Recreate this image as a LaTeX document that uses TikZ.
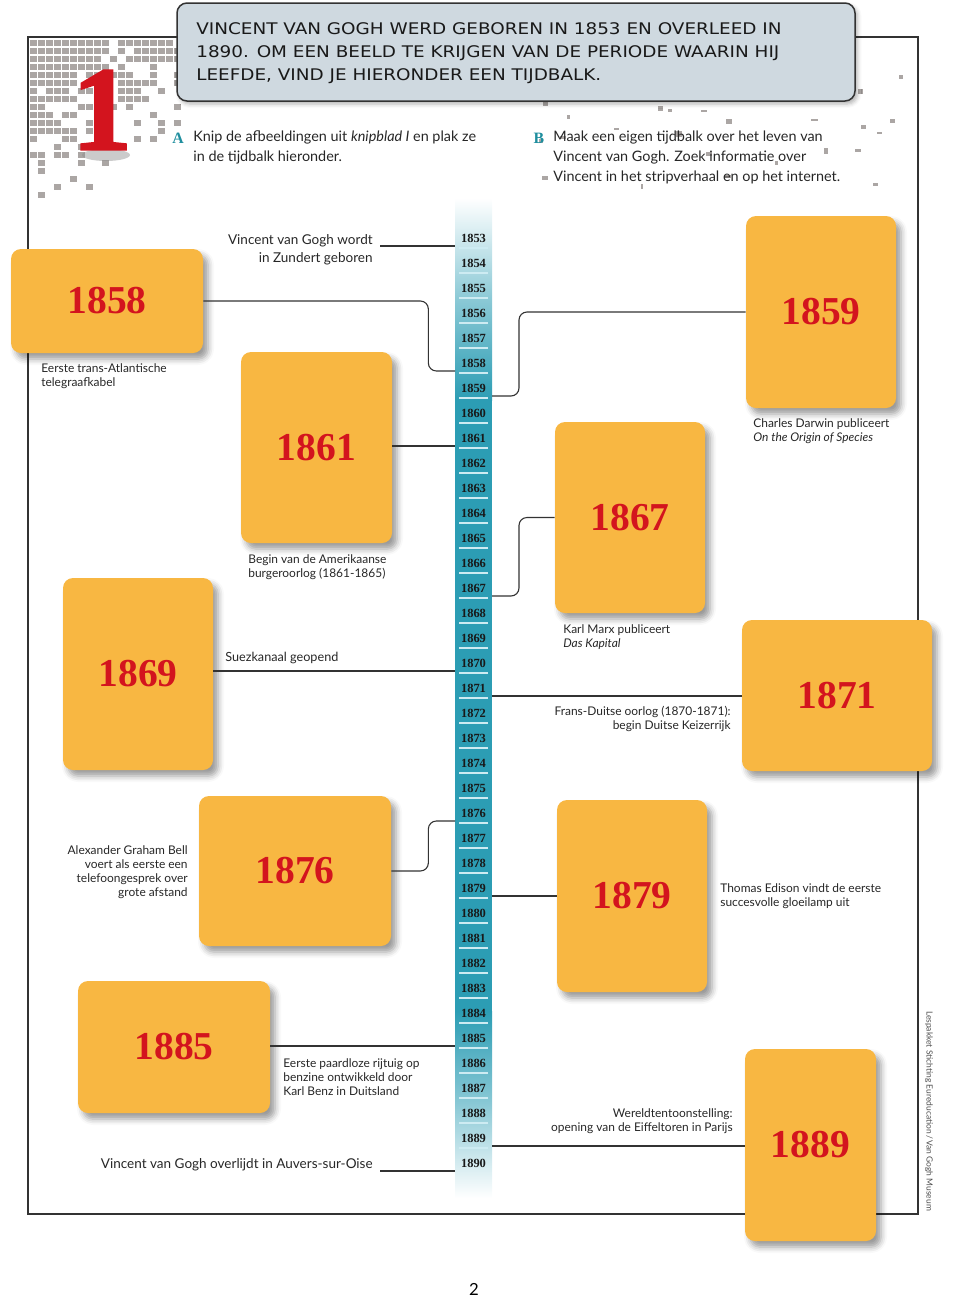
\documentclass[tikz,border=0pt]{standalone}
\usepackage{fontspec}
\setmainfont{Lato}
\newfontfamily\serifbold{Liberation Serif}
\newfontfamily\numfont{Liberation Serif}[FakeBold=2]
\newfontfamily\capsfont{DejaVu Sans}[FakeStretch=1.15]
\usetikzlibrary{calc,shadows.blur}

\definecolor{cardorange}{HTML}{F8B742}
\definecolor{yearred}{HTML}{D3141E}
\definecolor{barteal}{HTML}{2C9DB4}
\definecolor{tickblue}{HTML}{CDEBF2}
\definecolor{headblue}{HTML}{CFD9E0}
\definecolor{inkgray}{HTML}{333333}
\definecolor{letterteal}{HTML}{1F8E9E}
\definecolor{grunge}{HTML}{ABA6A4}

\begin{document}
\begin{tikzpicture}[x=0.2mm, y=-0.2mm,
card/.style 2 args={fill=cardorange, rounded corners=2mm, minimum width=#1*0.2mm, minimum height=#2*0.2mm, inner sep=0pt, text=yearred, font=\serifbold\bfseries\fontsize{22.5}{24}\selectfont, blur shadow={shadow xshift=1mm, shadow yshift=-1.2mm, shadow blur radius=1.2mm, shadow opacity=40}},
tick/.style={font=\serifbold\bfseries\fontsize{7.1}{8}\selectfont, text=black!90, inner sep=0pt},
tickline/.style={draw=tickblue, line width=0.3mm},
link/.style={draw=inkgray, line width=0.22mm, rounded corners=1.6mm},
note/.style={font=\fontsize{6.8}{8}\selectfont, inner sep=0pt, text=black!85},
bignote/.style={font=\fontsize{7.7}{10.2}\selectfont, inner sep=0pt, text=black!85},
intro/.style={font=\fontsize{8.2}{11.4}\selectfont, inner sep=0pt, align=left, anchor=west, text=black!85},
letter/.style={font=\serifbold\bfseries\fontsize{9}{10}\selectfont, text=letterteal, inner sep=0pt},
frame/.style={draw=inkgray, line width=0.3mm}
]

\useasboundingbox (0,0) rectangle (960,1296);

\pgfmathsetseed{11}
\foreach \gx in {30,38,...,178}
  \foreach \gy in {40,48,...,192} {
    \pgfmathsetmacro\pr{1.15-0.004*(\gx-30)-0.0062*(\gy-40)}
    \pgfmathtruncatemacro\hit{rnd<\pr ? 1 : 0}
    \ifnum\hit=1 \fill[grunge] (\gx,\gy) rectangle ++(7,6); \fi
  }
\foreach \k in {1,...,45} {
  \pgfmathsetmacro\sx{480+430*rnd}
  \pgfmathsetmacro\sy{40+145*rnd}
  \fill[grunge] (\sx,\sy) rectangle ++({2+5*rnd},{2+4*rnd});
}

\draw[frame] (28,37) rectangle (918,1214);

\node[draw=inkgray, line width=0.3mm, fill=headblue, rounded corners=2mm, minimum width=678*0.2mm, minimum height=98*0.2mm, blur shadow={shadow xshift=0.5mm, shadow yshift=-0.6mm, shadow blur radius=0.8mm, shadow opacity=30}] (head) at (516,52) {};
\node[anchor=west, align=left, inner sep=0pt, font=\capsfont\fontsize{9.1}{13.1}\selectfont, text=black!90] (headtxt) at (196,53) {VINCENT VAN GOGH WERD GEBOREN IN 1853 EN OVERLEED IN\\1890. OM EEN BEELD TE KRIJGEN VAN DE PERIODE WAARIN HIJ\\LEEFDE, VIND JE HIERONDER EEN TIJDBALK.};

\fill[black!45, opacity=0.45] (106,155) ellipse (24 and 6);
\node[font=\numfont\bfseries\fontsize{68}{70}\selectfont, text=yearred, inner sep=0pt] (num) at (102,110) {1};

\node[letter] (la) at (178,138) {A};
\node[intro] (introa) at (193,147) {Knip de afbeeldingen uit \textit{knipblad I} en plak ze\\in de tijdbalk hieronder.};
\node[letter] (lb) at (539,138) {B};
\node[intro] (introb) at (553,157) {Maak een eigen tijdbalk over het leven van\\Vincent van Gogh. Zoek informatie over\\Vincent in het stripverhaal en op het internet.};

\shade[top color=white, bottom color=barteal, middle color=barteal!55] (455,198) rectangle (492,400);
\fill[barteal] (455,399) rectangle (492,1012);
\shade[top color=barteal, bottom color=white, middle color=barteal!55] (455,1011) rectangle (492,1198);

\foreach \yr [count=\i from 0] in {1853,...,1890} {
  \pgfmathsetmacro\yy{238+25*\i}
  \node[tick] (y\yr) at (473.5,\yy) {\yr};
  \ifnum\yr<1890 \draw[tickline] (459,{\yy+10}) -- (488,{\yy+10}); \fi
  \coordinate (bl\yr) at (455,{\yy+8});
  \coordinate (br\yr) at (492,{\yy+8});
}

\node[card={192}{104}] (c1858) at (107,301) {1858};
\node[card={150}{192}] (c1859) at (821,312) {1859};
\node[card={151}{191}] (c1861) at (316.5,447.5) {1861};
\node[card={150}{191}] (c1867) at (630,517.5) {1867};
\node[card={150}{192}] (c1869) at (138,674) {1869};
\node[card={190}{151}] (c1871) at (837,695.5) {1871};
\node[card={192}{150}] (c1876) at (295,871) {1876};
\node[card={150}{192}] (c1879) at (632,896) {1879};
\node[card={192}{132}] (c1885) at (174,1047) {1885};
\node[card={131}{192}] (c1889) at (810.5,1145) {1889};

\node[bignote, anchor=east, align=right] (born) at (373,250) {Vincent van Gogh wordt\\in Zundert geboren};
\node[bignote, anchor=east] (died) at (373,1165) {Vincent van Gogh overlijdt in Auvers-sur-Oise};
\node[note, anchor=west, align=left] (cable) at (41,376) {Eerste trans-Atlantische\\telegraafkabel};
\node[note, anchor=west, align=left] (darwin) at (753,431) {Charles Darwin publiceert\\\textit{On the Origin of Species}};
\node[note, anchor=west, align=left] (civilwar) at (248,567) {Begin van de Amerikaanse\\burgeroorlog (1861-1865)};
\node[note, anchor=west, align=left] (marx) at (563,637) {Karl Marx publiceert\\\textit{Das Kapital}};
\node[note, anchor=west, font=\fontsize{7.2}{8}\selectfont] (suez) at (225,658) {Suezkanaal geopend};
\node[note, anchor=east, align=right] (fransduits) at (731,719) {Frans-Duitse oorlog (1870-1871):\\begin Duitse Keizerrijk};
\node[note, anchor=east, align=right] (bell) at (188,872.5) {Alexander Graham Bell\\voert als eerste een\\telefoongesprek over\\grote afstand};
\node[note, anchor=west, align=left] (edison) at (720,896) {Thomas Edison vindt de eerste\\succesvolle gloeilamp uit};
\node[note, anchor=west, align=left] (benz) at (283,1077) {Eerste paardloze rijtuig op\\benzine ontwikkeld door\\Karl Benz in Duitsland};
\node[note, anchor=east, align=right] (expo) at (733,1121) {Wereldtentoonstelling:\\opening van de Eiffeltoren in Parijs};

\coordinate (bornend) at (380,245);
\coordinate (diedend) at (380,1168);
\draw[link] (bornend |- bl1853) -- (bl1853);
\draw[link] (c1858.east) -- ++(225,0) |- (bl1858);
\draw[link] (br1859) -- ++(27,0) |- (c1859.west);
\draw[link] (c1861.east |- bl1861) -- (bl1861);
\draw[link] (br1867) -- ++(27,0) |- (c1867.west);
\draw[link] (c1869.east |- bl1870) -- (bl1870);
\draw[link] (br1871) -- (c1871.west |- br1871);
\draw[link] (c1876.east) -- ++(37,0) |- (bl1876);
\draw[link] (br1879) -- (c1879.west |- br1879);
\draw[link] (c1885.east |- bl1885) -- (bl1885);
\draw[link] (br1889) -- (c1889.west |- br1889);
\draw[link] (diedend |- bl1890) -- (bl1890);

\node[font=\fontsize{9.5}{10}\selectfont, inner sep=0pt] (page) at (474,1289) {2};
\node[rotate=-90, font=\fontsize{4.8}{5}\selectfont, text=black!70, inner sep=0pt] (credit) at (929,1111) {Lespakket Stichting Eureducation\,/\,Van Gogh Museum};

\end{tikzpicture}
\end{document}
